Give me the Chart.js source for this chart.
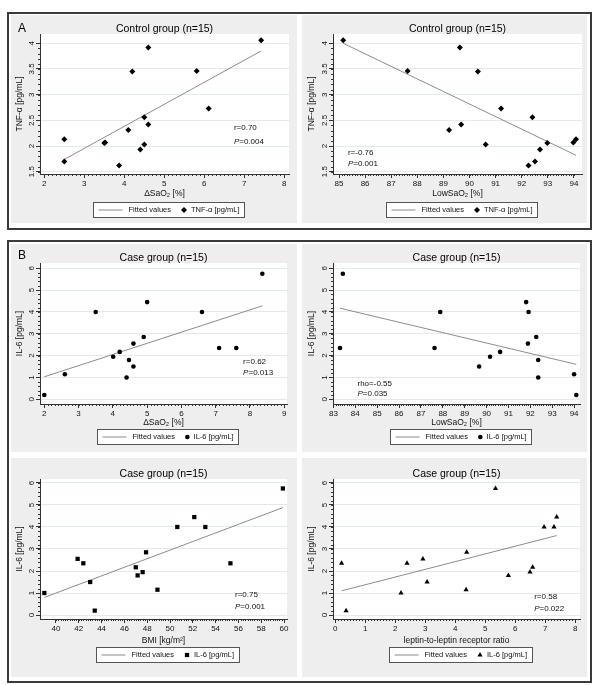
<!DOCTYPE html>
<html>
<head>
<meta charset="utf-8">
<script src="https://cdn.jsdelivr.net/npm/chart.js@4.4.1/dist/chart.umd.min.js"></script>
<style>
  body { margin: 0; background: #fff; }
  #fig { position: relative; width: 600px; height: 685px; font-family: "Liberation Sans", Arial, sans-serif; }
  .panel { position: absolute; border: 2px solid #3a3a3a; box-sizing: border-box; }
  .tag { position: absolute; font-size: 12px; color: #000; line-height: 14px; }
  canvas { position: absolute; }
</style>
</head>
<body>
<div id="fig">
  <div class="panel" style="left:7px;top:12px;width:585px;height:218px"></div>
  <div class="panel" style="left:7px;top:240px;width:585px;height:443px"></div>
  <canvas id="cA1" width="286" height="208" style="left:11px;top:15px"></canvas>
  <canvas id="cA2" width="285" height="208" style="left:302px;top:15px"></canvas>
  <canvas id="cB1" width="286" height="208" style="left:11px;top:244px"></canvas>
  <canvas id="cB2" width="285" height="208" style="left:302px;top:244px"></canvas>
  <canvas id="cB3" width="286" height="219" style="left:11px;top:458px"></canvas>
  <canvas id="cB4" width="285" height="219" style="left:302px;top:458px"></canvas>
  <div class="tag" style="left:18px;top:21px">A</div>
  <div class="tag" style="left:18px;top:248px">B</div>
</div>
<script>
// control group: TNF-alpha against the two oxygen measures
var tnfAlpha = [1.62, 1.70, 1.93, 2.03, 2.06, 2.07, 2.13, 2.31, 2.42, 2.56, 2.73, 3.45, 3.46, 3.92, 4.06];
var ctrlDeltaSaO2 = [3.87, 2.5, 4.4, 4.5, 3.5, 3.52, 2.5, 4.1, 4.6, 4.5, 6.11, 4.2, 5.81, 4.6, 7.42];
var ctrlLowSaO2 = [92.26, 92.51, 92.7, 90.62, 92.98, 93.98, 94.08, 89.22, 89.68, 92.41, 91.21, 90.32, 87.63, 89.63, 85.16];

// case group: IL-6 against four measures
var il6 = [0.2, 1.0, 1.15, 1.5, 1.8, 1.95, 2.17, 2.35, 2.35, 2.55, 2.85, 4.0, 4.0, 4.45, 5.75];
var caseDeltaSaO2 = [2.0, 4.4, 2.6, 4.6, 4.47, 4.01, 4.2, 7.1, 7.6, 4.6, 4.9, 3.5, 6.6, 5.0, 8.36];
var caseLowSaO2 = [94.1, 92.36, 94.0, 89.66, 92.36, 90.16, 90.62, 83.3, 87.62, 91.89, 92.27, 87.88, 91.92, 91.81, 83.43];
var caseBMI = [43.4, 38.98, 48.9, 43.0, 47.16, 47.6, 47.0, 42.4, 55.3, 41.9, 47.9, 50.64, 53.1, 52.13, 59.9];
var leptinRatio = [0.36, 2.19, 4.36, 3.06, 5.77, 6.49, 6.58, 0.21, 2.39, 2.92, 4.38, 6.96, 7.29, 7.38, 5.34];

// fitted values, end points of each line
var fitA1x = [2.5, 7.42],    fitA1y = [1.74, 3.85];
var fitA2x = [85.16, 94.08], fitA2y = [4.0, 1.82];
var fitB1x = [2.0, 8.36],    fitB1y = [1.03, 4.28];
var fitB2x = [83.3, 94.1],   fitB2y = [4.17, 1.6];
var fitB3x = [38.98, 59.9],  fitB3y = [0.80, 4.88];
var fitB4x = [0.21, 7.38],   fitB4y = [1.10, 3.61];

// tick labels
var tnfTicks = [1.5, 2, 2.5, 3, 3.5, 4];
var il6Ticks = [0, 1, 2, 3, 4, 5, 6];
var deltaTicksA = [2, 3, 4, 5, 6, 7, 8];
var lowTicksA = [85, 86, 87, 88, 89, 90, 91, 92, 93, 94];
var deltaTicksB = [2, 3, 4, 5, 6, 7, 8, 9];
var lowTicksB = [83, 84, 85, 86, 87, 88, 89, 90, 91, 92, 93, 94];
var bmiTicks = [40, 42, 44, 46, 48, 50, 52, 54, 56, 58, 60];
var ratioTicks = [0, 1, 2, 3, 4, 5, 6, 7, 8];

var FONT = '"Liberation Sans", Arial, sans-serif';
var XH = 26;

// vertical offsets below the plot area, per row
var rowA = { xTitle: 19.3, legend: 35.3 };
var rowB1 = { xTitle: 18.5, legend: 32.7 };
var rowB2 = { xTitle: 21.5, legend: 35 };

function pairs(xs, ys) {
  return xs.map(function (x, i) { return { x: x, y: ys[i] }; });
}

function look(cfg) {
  return {
    id: 'stataLook',
    beforeDraw: function (chart) {
      var c = chart.ctx, a = chart.chartArea;
      c.save();
      c.fillStyle = '#eeeeee';
      c.fillRect(0, 0, chart.width, chart.height);
      c.fillStyle = '#ffffff';
      c.fillRect(a.left, a.top, a.right - a.left, a.bottom - a.top);
      c.restore();
    },
    afterDraw: function (chart) {
      var c = chart.ctx, a = chart.chartArea, xs = chart.scales.x, ys = chart.scales.y;
      var i, n, v, p;
      c.save();
      c.strokeStyle = '#333';
      c.lineWidth = 1;

      // minor ticks
      var xt = cfg.xTicks, yt = cfg.yTicks;
      var xStep = (xt[1] - xt[0]) / 10, yStep = (yt[1] - yt[0]) / 5;
      c.beginPath();
      n = Math.round((xt[xt.length - 1] - xt[0]) / xStep);
      for (i = 0; i <= n; i++) {
        p = Math.round(xs.getPixelForValue(xt[0] + i * xStep)) + 0.5;
        c.moveTo(p, a.bottom);
        c.lineTo(p, a.bottom + 2);
      }
      n = Math.round((yt[yt.length - 1] - yt[0]) / yStep);
      for (i = 0; i <= n; i++) {
        p = Math.round(ys.getPixelForValue(yt[0] + i * yStep)) + 0.5;
        c.moveTo(a.left, p);
        c.lineTo(a.left - 2, p);
      }
      c.stroke();

      // y tick labels, turned like the axis title
      c.fillStyle = '#111';
      c.font = '8px ' + FONT;
      c.textAlign = 'center';
      c.textBaseline = 'middle';
      ys.ticks.forEach(function (t) {
        c.save();
        c.translate(a.left - 8.5, ys.getPixelForValue(t.value));
        c.rotate(-Math.PI / 2);
        c.fillText(String(t.value), 0, 0);
        c.restore();
      });

      // correlation text
      c.textAlign = 'left';
      var sx = xs.getPixelForValue(cfg.statX);
      cfg.stats.forEach(function (s, k) {
        var sy = ys.getPixelForValue(cfg.statY[k]);
        if (s.charAt(0) === 'P') {
          c.font = 'italic 8px ' + FONT;
          c.fillText('P', sx, sy);
          var w = c.measureText('P').width;
          c.font = '8px ' + FONT;
          c.fillText(s.slice(1), sx + w, sy);
        } else {
          c.font = '8px ' + FONT;
          c.fillText(s, sx, sy);
        }
      });

      // legend box
      var d0 = chart.data.datasets[0], d1 = chart.data.datasets[1];
      c.font = '7.5px ' + FONT;
      var lineLen = 24, padL = 5, gap1 = 6, gap2 = 10, mk = 2 * d1.pointRadius, gap3 = 4, padR = 5;
      var w0 = c.measureText(d0.label).width, w1 = c.measureText(d1.label).width;
      var total = Math.round(padL + lineLen + gap1 + w0 + gap2 + mk + gap3 + w1 + padR);
      var cx = (a.left + a.right) / 2 + 4, cy = a.bottom + cfg.row.legend;
      var bx = Math.round(cx - total / 2) + 0.5, by = Math.round(cy - 7.5) + 0.5;
      c.fillStyle = '#ffffff';
      c.fillRect(bx, by, total, 15);
      c.strokeStyle = '#555';
      c.strokeRect(bx, by, total, 15);
      var lx = bx + padL, ly = by + 7.5;
      c.strokeStyle = d0.borderColor;
      c.lineWidth = d0.borderWidth;
      c.beginPath();
      c.moveTo(lx, ly);
      c.lineTo(lx + lineLen, ly);
      c.stroke();
      lx += lineLen + gap1;
      c.fillStyle = '#111';
      c.textAlign = 'left';
      c.textBaseline = 'middle';
      c.fillText(d0.label, lx, ly);
      lx += w0 + gap2 + mk / 2;
      c.fillStyle = d1.backgroundColor;
      if (Chart.helpers && Chart.helpers.drawPoint) {
        Chart.helpers.drawPoint(c, { pointStyle: d1.pointStyle, radius: d1.pointRadius, rotation: 0, borderWidth: 0 }, lx, ly);
      } else {
        c.beginPath();
        c.arc(lx, ly, d1.pointRadius, 0, Math.PI * 2);
        c.fill();
      }
      lx += mk / 2 + gap3;
      c.fillStyle = '#111';
      c.fillText(d1.label, lx, ly);
      c.restore();
    }
  };
}

function build(cfg) {
  var canvas = document.getElementById(cfg.id);
  var W = canvas.width, H = canvas.height, area = cfg.area;
  return new Chart(canvas, {
    type: 'scatter',
    data: {
      datasets: [
        { label: 'Fitted values', data: pairs(cfg.fitX, cfg.fitY), showLine: true, borderColor: '#8c8c8c', borderWidth: 1,
          pointRadius: 0, pointHoverRadius: 0, order: 1 },
        { label: cfg.series, data: pairs(cfg.x, cfg.y), pointStyle: cfg.marker, pointRadius: cfg.radius,
          pointHoverRadius: cfg.radius, backgroundColor: '#000', borderColor: '#000', borderWidth: 0, order: 0 }
      ]
    },
    options: {
      responsive: false,
      animation: false,
      events: [],
      layout: { padding: { left: 0, top: area[1] - 10, right: W - area[2], bottom: H - area[3] - XH } },
      plugins: {
        legend: { display: false },
        tooltip: { enabled: false },
        title: { display: true, fullSize: false, text: cfg.title, color: '#000',
          font: { family: FONT, size: 10.5, weight: 'normal', lineHeight: 1 }, padding: { top: 0, bottom: -0.5 } }
      },
      scales: {
        x: {
          type: 'linear', position: 'bottom', min: cfg.xMin, max: cfg.xMax,
          afterBuildTicks: function (s) { s.ticks = cfg.xTicks.map(function (v) { return { value: v }; }); },
          afterFit: function (s) { s.height = XH; },
          border: { color: '#333', width: 1 },
          grid: { drawOnChartArea: false, drawTicks: true, tickLength: 4, tickColor: '#333', tickWidth: 1 },
          ticks: { color: '#111', font: { family: FONT, size: 8 }, padding: 1.2, maxRotation: 0, autoSkip: false,
            callback: function (v) { return String(v); } },
          title: { display: true, text: cfg.xTitle, color: '#111', font: { family: FONT, size: 8.5, lineHeight: 1 },
            padding: { top: 0, bottom: 21.75 - cfg.row.xTitle } }
        },
        y: {
          type: 'linear', position: 'left', min: cfg.yMin, max: cfg.yMax,
          afterBuildTicks: function (s) { s.ticks = cfg.yTicks.map(function (v) { return { value: v }; }); },
          afterFit: function (s) { s.width = area[0]; },
          border: { color: '#333', width: 1 },
          grid: { color: '#e2eaed', drawTicks: true, tickLength: 4, tickColor: '#333', tickWidth: 1 },
          ticks: { display: false },
          title: { display: true, text: cfg.yTitle, color: '#111', font: { family: FONT, size: 8.5, lineHeight: 1 },
            padding: { top: cfg.yTitleX - 4.25, bottom: 0 } }
        }
      }
    },
    plugins: [look(cfg)]
  });
}

[
  { id: 'cA1', title: 'Control group (n=15)', x: ctrlDeltaSaO2, y: tnfAlpha, fitX: fitA1x, fitY: fitA1y,
    xTicks: deltaTicksA, yTicks: tnfTicks, xMin: 1.8925, xMax: 8.1175, yMin: 1.455, yMax: 4.181,
    xTitle: 'ΔSaO₂ [%]', yTitle: 'TNF-α [pg/mL]', series: 'TNF-α [pg/mL]', marker: 'rectRot', radius: 3,
    stats: ['r=0.70', 'P=0.004'], statX: 6.74, statY: [2.35, 2.08], area: [29, 19, 278, 159], yTitleX: 9, row: rowA },
  { id: 'cA2', title: 'Control group (n=15)', x: ctrlLowSaO2, y: tnfAlpha, fitX: fitA2x, fitY: fitA2y,
    xTicks: lowTicksA, yTicks: tnfTicks, xMin: 84.77, xMax: 94.31, yMin: 1.455, yMax: 4.181,
    xTitle: 'LowSaO₂ [%]', yTitle: 'TNF-α [pg/mL]', series: 'TNF-α [pg/mL]', marker: 'rectRot', radius: 3,
    stats: ['r=-0.76', 'P=0.001'], statX: 85.34, statY: [1.87, 1.65], area: [31, 19, 280, 159], yTitleX: 9.7, row: rowA },
  { id: 'cB1', title: 'Case group (n=15)', x: caseDeltaSaO2, y: il6, fitX: fitB1x, fitY: fitB1y,
    xTicks: deltaTicksB, yTicks: il6Ticks, xMin: 1.875, xMax: 9.08, yMin: -0.215, yMax: 6.24,
    xTitle: 'ΔSaO₂ [%]', yTitle: 'IL-6 [pg/mL]', series: 'IL-6 [pg/mL]', marker: 'circle', radius: 2.3,
    stats: ['r=0.62', 'P=0.013'], statX: 7.8, statY: [1.72, 1.2], area: [29, 19, 276, 160], yTitleX: 9, row: rowB1 },
  { id: 'cB2', title: 'Case group (n=15)', x: caseLowSaO2, y: il6, fitX: fitB2x, fitY: fitB2y,
    xTicks: lowTicksB, yTicks: il6Ticks, xMin: 82.98, xMax: 94.27, yMin: -0.215, yMax: 6.24,
    xTitle: 'LowSaO₂ [%]', yTitle: 'IL-6 [pg/mL]', series: 'IL-6 [pg/mL]', marker: 'circle', radius: 2.3,
    stats: ['rho=-0.55', 'P=0.035'], statX: 84.1, statY: [0.7, 0.23], area: [31, 19, 278, 160], yTitleX: 9.7, row: rowB1 },
  { id: 'cB3', title: 'Case group (n=15)', x: caseBMI, y: il6, fitX: fitB3x, fitY: fitB3y,
    xTicks: bmiTicks, yTicks: il6Ticks, xMin: 38.6, xMax: 60.26, yMin: -0.18, yMax: 6.18,
    xTitle: 'BMI [kg/m²]', yTitle: 'IL-6 [pg/mL]', series: 'IL-6 [pg/mL]', marker: 'rect', radius: 3,
    stats: ['r=0.75', 'P=0.001'], statX: 55.7, statY: [0.94, 0.38], area: [29, 21, 276, 161], yTitleX: 9, row: rowB2 },
  { id: 'cB4', title: 'Case group (n=15)', x: leptinRatio, y: il6, fitX: fitB4x, fitY: fitB4y,
    xTicks: ratioTicks, yTicks: il6Ticks, xMin: -0.077, xMax: 8.157, yMin: -0.18, yMax: 6.18,
    xTitle: 'leptin-to-leptin receptor ratio', yTitle: 'IL-6 [pg/mL]', series: 'IL-6 [pg/mL]', marker: 'triangle', radius: 3,
    stats: ['r=0.58', 'P=0.022'], statX: 6.63, statY: [0.83, 0.30], area: [31, 21, 278, 161], yTitleX: 9.7, row: rowB2 }
].forEach(build);
</script>
</body>
</html>
